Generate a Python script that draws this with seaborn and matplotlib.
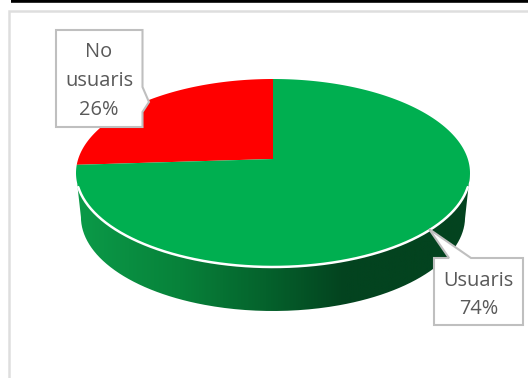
import numpy as np
import pandas as pd
import seaborn as sns
import matplotlib
matplotlib.use("Agg")
import matplotlib.pyplot as plt
from matplotlib.colors import LinearSegmentedColormap
from matplotlib.patches import PathPatch, Polygon, Rectangle
from matplotlib.path import Path

# Survey shares
groups = ["No usuaris", "Usuaris"]
shares = [26, 74]
slice_colors = ["#FF0000", "#00AF50"]
callout_text = ["No\nusuaris\n26%", "Usuaris\n74%"]

sns.set_theme(style="white")
plt.rcParams["font.family"] = ["Open Sans", "DejaVu Sans"]

df = pd.DataFrame({"group": groups, "share": shares})

fig = plt.figure(figsize=(5.28, 3.78), dpi=100)
ax = fig.add_axes([0, 0, 1, 1])
ax.set_xlim(0, 528)
ax.set_ylim(378, 0)
ax.axis("off")

# Tilted-disc projection: a unit circle seen in perspective
CX, CY = 273.0, 159.0
TOP, BOTTOM = 79.0, 267.0
HALF_W = 197.0
c = (TOP + BOTTOM - 2 * CY) / (BOTTOM - TOP)
a = TOP * (1 + c) - CY
k = HALF_W * np.sqrt(1 - c * c)


def project(theta_deg, dy=0.0, xs=1.0):
    t = np.radians(theta_deg)
    u, v = np.cos(t), np.sin(t)
    w = 1 + c * v
    return CX + xs * k * u / w, (a * v + CY) / w + dy


# Chart frame and the rule above it
ax.add_patch(Rectangle((8.5, 10.5), 540, 400, fc="white", ec="#DEDEDE", lw=1.8, zorder=1))
ax.plot([11, 528], [1, 1], color="black", lw=2.6, solid_capstyle="butt", zorder=1)

# Side wall with a left-to-right shading
DEPTH = 44.0
wall_cmap = LinearSegmentedColormap.from_list(
    "wall",
    [(0, "#0B9A48"), (0.26, "#07823A"), (0.48, "#05622C"),
     (0.68, "#03431F"), (1, "#03431F")],
)
theta = np.linspace(188.6, 351.4, 240)
ux, uy = project(theta)
lx, ly = project(theta, dy=DEPTH, xs=0.975)
wall_path = Path(np.r_[np.c_[ux, uy], np.c_[lx, ly][::-1], [[ux[0], uy[0]]]])
grad = ax.imshow(
    np.linspace(0, 1, 400)[None, :],
    cmap=wall_cmap,
    extent=(77, 470, 330, 150),
    aspect="auto",
    zorder=2,
)
ax.set_xlim(0, 528)
ax.set_ylim(378, 0)
grad.set_clip_path(PathPatch(wall_path, transform=ax.transData))

# Top face: one slice per group, going counter-clockwise from twelve o'clock
sns.set_palette(slice_colors)
start = 90.0
for row, color in zip(df.itertuples(), sns.color_palette(n_colors=len(df))):
    sweep = row.share / df["share"].sum() * 360
    t = np.linspace(start, start + sweep, 200)
    x, y = project(t)
    ax.add_patch(Polygon(np.r_[[[CX, CY]], np.c_[x, y]], closed=True, fc=color, ec="none", zorder=3))
    start += sweep

# Light rim along the front edge
rx, ry = project(np.linspace(197, 343, 200))
ax.plot(rx, ry, color="white", lw=1.8, zorder=4)


def callout(points, label, tx, ty, spacing):
    ax.add_patch(Polygon(points, closed=True, fc="white", ec="#BFBFBF", lw=1.5, joinstyle="miter", zorder=5))
    ax.text(tx, ty, label, ha="center", va="center", color="#595959", fontsize=14.4,
            linespacing=spacing, zorder=6)


callout([(56, 30), (142.5, 30), (142.5, 87), (149, 102), (142.5, 112), (142.5, 127), (56, 127)],
        callout_text[0], 99, 81, 1.58)
callout([(434, 258), (449, 258), (429, 229), (471, 258), (523, 258), (523, 325), (434, 325)],
        callout_text[1], 478.5, 295, 1.6)

fig.savefig("out.png", dpi=100)
